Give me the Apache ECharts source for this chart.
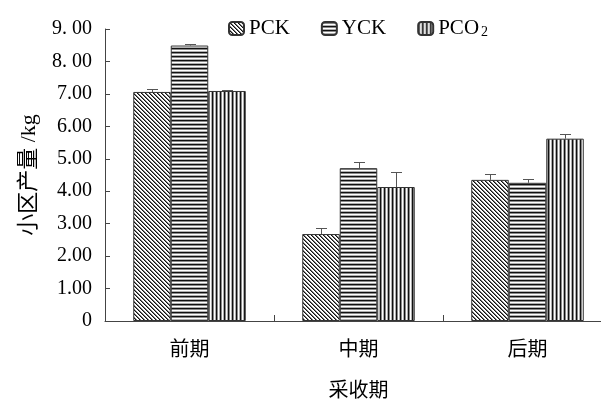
<!DOCTYPE html>
<html>
<head>
<meta charset="utf-8">
<script src="https://cdn.jsdelivr.net/npm/echarts@6/dist/echarts.min.js"></script>
<style>html,body{margin:0;padding:0;background:#fff;}#c{width:601px;height:400px;}</style>
</head>
<body>
<div id="c"></div>
<script>
const categories = ['前期', '中期', '后期'];
const seriesNames = ['PCK', 'YCK', 'PCO2'];
const pck = [7.06, 2.68, 4.35];
const yck = [8.49, 4.71, 4.26];
const pco2 = [7.09, 4.13, 5.62];
const pckErr = [0.09, 0.19, 0.18];
const yckErr = [0.06, 0.20, 0.11];
const pco2Err = [0.02, 0.45, 0.13];
const yTickLabels = ['0', '1.00', '2.00', '3.00', '4.00', '5.00', '6.00', '7.00', '8. 00', '9. 00'];

function makePattern(kind) {
  const c = document.createElement('canvas');
  c.width = 4; c.height = 4;
  const g = c.getContext('2d');
  g.fillStyle = '#fff'; g.fillRect(0, 0, 4, 4);
  if (kind === 'diag') {
    for (let i = 0; i < 4; i++) {
      g.fillStyle = '#111'; g.fillRect(i, i, 1, 1);
      g.fillStyle = '#777'; g.fillRect((i + 1) % 4, i, 1, 1);
    }
  } else if (kind === 'h') {
    g.fillStyle = '#111'; g.fillRect(0, 0, 4, 1);
    g.fillStyle = '#8a8a8a'; g.fillRect(0, 1, 4, 1);
    g.fillStyle = '#b0b0b0'; g.fillRect(0, 3, 4, 1);
  } else {
    g.fillStyle = '#111'; g.fillRect(0, 0, 1, 4);
    g.fillStyle = '#8a8a8a'; g.fillRect(1, 0, 1, 4);
    g.fillStyle = '#b0b0b0'; g.fillRect(3, 0, 1, 4);
  }
  return { image: c, repeat: 'repeat' };
}

const values = [pck, yck, pco2];
const errs = [pckErr, yckErr, pco2Err];
const patterns = [makePattern('diag'), makePattern('h'), makePattern('v')];
const BAR_W = 37.5;
const serif = "'Liberation Serif', 'Noto Sans CJK SC', serif";
const cjk = "'Noto Sans CJK SC', 'Liberation Serif', sans-serif";

const series = [];
values.forEach((vals, i) => {
  series.push({
    name: seriesNames[i],
    type: 'bar',
    data: vals,
    barWidth: BAR_W,
    barGap: '0%',
    itemStyle: { color: patterns[i], borderColor: '#333', borderWidth: 1 },
    z: 2
  });
});
values.forEach((vals, i) => {
  const offset = (i - 1) * BAR_W;
  series.push({
    name: 'err' + i,
    type: 'custom',
    z: 5,
    data: vals.map((v, k) => [k, v, errs[i][k]]),
    encode: { x: 0, y: 1 },
    renderItem: function (params, api) {
      const base = api.coord([api.value(0), api.value(1)]);
      const top = api.coord([api.value(0), api.value(1) + api.value(2)]);
      const cx = Math.round(base[0] + offset) + 0.5;
      const ty = Math.round(top[1]) + 0.5;
      const st = { stroke: '#555', lineWidth: 1 };
      return {
        type: 'group',
        children: [
          { type: 'line', shape: { x1: cx, y1: base[1], x2: cx, y2: ty }, style: st },
          { type: 'line', shape: { x1: cx - 5.5, y1: ty, x2: cx + 5.5, y2: ty }, style: st }
        ]
      };
    }
  });
});

const chart = echarts.init(document.getElementById('c'));
chart.setOption({
  animation: false,
  backgroundColor: '#fff',
  grid: { left: 105, top: 29, bottom: 79, right: -11, containLabel: false, outerBoundsMode: 'none' },
  legend: {
    data: seriesNames,
    left: 223,
    top: 13,
    itemWidth: 15,
    itemHeight: 13,
    itemGap: 31,
    formatter: function (name) {
      return name === 'PCO2' ? '{n|PCO}{s|2}' : '{n|' + name + '}';
    },
    textStyle: {
      fontFamily: serif, fontSize: 21, color: '#000',
      rich: {
        n: { fontFamily: serif, fontSize: 21, color: '#000' },
        s: { fontFamily: serif, fontSize: 14, color: '#000', verticalAlign: 'bottom', padding: [8, 0, 0, 2] }
      }
    }
  },
  xAxis: {
    type: 'category',
    data: categories,
    name: '采收期',
    nameLocation: 'middle',
    nameGap: 58,
    nameTextStyle: { fontFamily: cjk, fontSize: 20, color: '#000' },
    axisLine: { lineStyle: { color: '#444', width: 1 } },
    axisTick: { show: true, inside: true, length: 6, lineStyle: { color: '#444' } },
    axisLabel: { fontFamily: cjk, fontSize: 20, color: '#000', margin: 17 },
    splitLine: { show: false }
  },
  yAxis: {
    type: 'value',
    min: 0,
    max: 9,
    interval: 1,
    name: '小区产量 /kg',
    nameLocation: 'middle',
    nameRotate: 90,
    nameGap: 65,
    nameTextStyle: { fontFamily: serif, fontSize: 22, color: '#000' },
    axisLine: { show: true, lineStyle: { color: '#444', width: 1 } },
    axisTick: { show: true, inside: true, length: 5, lineStyle: { color: '#444' } },
    axisLabel: {
      fontFamily: serif, fontSize: 20, color: '#000', margin: 13,
      formatter: function (v) { return yTickLabels[Math.round(v)]; }
    },
    splitLine: { show: false }
  },
  series: series
});
</script>
</body>
</html>
